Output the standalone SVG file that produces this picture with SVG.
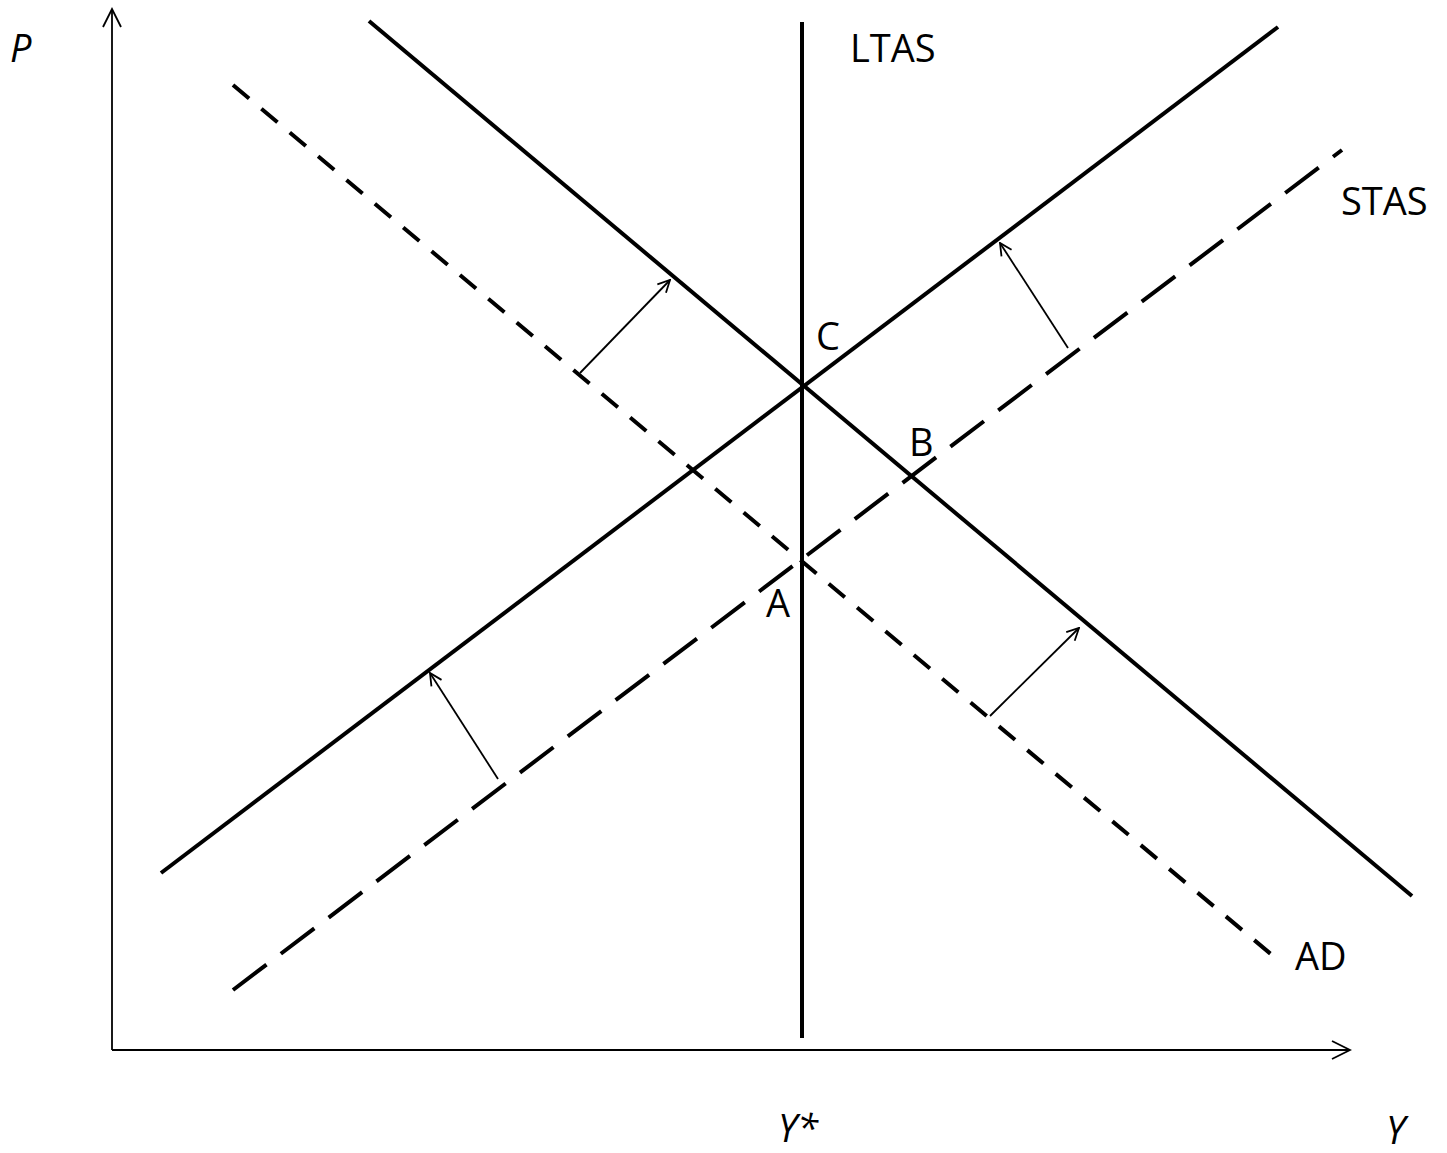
<svg xmlns="http://www.w3.org/2000/svg" width="1447" height="1153" viewBox="0 0 1447 1153">
<defs>
<marker id="ah" viewBox="0 0 14 14" refX="13" refY="7" markerWidth="14" markerHeight="14" markerUnits="userSpaceOnUse" orient="auto">
<path d="M1,1 L13,7 L1,13" fill="none" stroke="#000" stroke-width="1.8"/>
</marker>
<marker id="axh" viewBox="0 0 22 22" refX="20" refY="11" markerWidth="22" markerHeight="22" markerUnits="userSpaceOnUse" orient="auto">
<path d="M2,2 L20,11 L2,20" fill="none" stroke="#000" stroke-width="1.8"/>
</marker>
</defs>
<style>
.ax{stroke:#000;stroke-width:1.8;fill:none}
.sol{stroke:#000;stroke-width:4;fill:none}
.dad{stroke:#000;stroke-width:4;fill:none;stroke-dasharray:21 16}
.das{stroke:#000;stroke-width:4;fill:none;stroke-dasharray:42 18}
.sh{stroke:#000;stroke-width:1.8;fill:none}
text{font-family:"Open Sans","Liberation Sans",sans-serif;font-size:38px;fill:#000}
.it{font-style:italic}
</style>
<rect width="1447" height="1153" fill="#fff"/>
<g id="axes">
<line class="ax" x1="112" y1="1050" x2="112" y2="9" marker-end="url(#axh)"/>
<line class="ax" x1="112" y1="1050" x2="1350" y2="1050" marker-end="url(#axh)"/>
</g>
<g id="curves">
<line id="ltas" class="sol" x1="802" y1="22" x2="802" y2="1038"/>
<line id="ad2" class="sol" x1="369" y1="21" x2="1412" y2="896"/>
<line id="stas2" class="sol" x1="161" y1="873" x2="1278" y2="27"/>
<line id="ad1" class="dad" x1="233" y1="85" x2="1278" y2="960"/>
<line id="stas1" class="das" x1="233" y1="990" x2="1342" y2="150"/>
</g>
<g id="connectors">
<line class="sh" x1="580" y1="373" x2="670" y2="280" marker-end="url(#ah)"/>
<line class="sh" x1="1068" y1="348" x2="1000" y2="243" marker-end="url(#ah)"/>
<line class="sh" x1="498" y1="779" x2="430" y2="673" marker-end="url(#ah)"/>
<line class="sh" x1="990" y1="716" x2="1079" y2="628" marker-end="url(#ah)"/>
</g>
<g id="labels">
<text class="it" x="10" y="62">P</text>
<text x="850" y="62">LTAS</text>
<text x="1341" y="215">STAS</text>
<text x="816" y="350">C</text>
<text x="909" y="456">B</text>
<text x="766" y="617">A</text>
<text x="1295" y="970">AD</text>
<text class="it" x="778" y="1142">Y*</text>
<text class="it" x="1386" y="1144">Y</text>
</g>
</svg>
